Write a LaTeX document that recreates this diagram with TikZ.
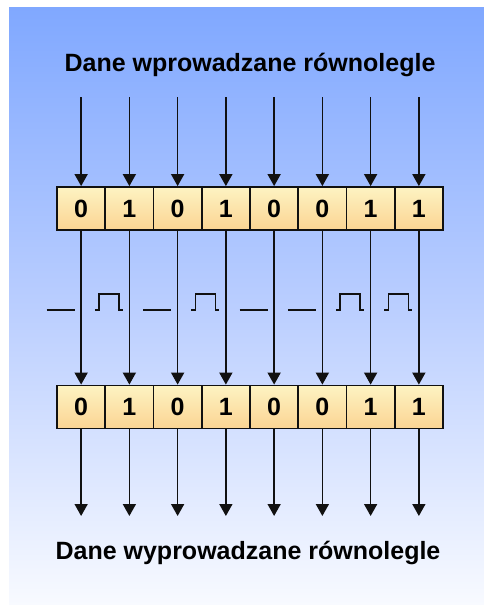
\documentclass[tikz,border=0pt]{standalone}
\usepackage{fontspec}
\setmainfont{Liberation Sans}
\usetikzlibrary{arrows.meta}
\definecolor{bgtop}{HTML}{80A8FF}
\definecolor{bgmid}{HTML}{BACEFF}
\definecolor{bgbot}{HTML}{F8FAFF}
\definecolor{celltop}{HTML}{FDF3C2}
\definecolor{cellbot}{HTML}{FBD493}
\definecolor{ink}{HTML}{111111}
\tikzset{
  cell/.style={draw=ink, line width=1.8pt, minimum width=48.25pt, minimum height=43pt,
    inner sep=0pt, top color=celltop, bottom color=cellbot,
    font=\fontsize{25}{30}\selectfont\bfseries},
  title/.style={font=\fontsize{25}{30}\selectfont\bfseries, inner sep=0pt},
  flow/.style={draw=ink, line width=1.6pt, -{Triangle[width=13pt,length=12pt]}, shorten >=0pt},
  sig/.style={draw=ink, line width=1.4pt},
}
\begin{document}
\begin{tikzpicture}[x=1pt,y=-1pt]
\useasboundingbox (0,0) rectangle (484,605);
\shade[top color=bgtop, bottom color=bgbot, middle color=bgmid] (9,7) rectangle (484,605);
\node[title] (tin) at (250,65) {Dane wprowadzane równolegle};
\node[title] (tout) at (248,553) {Dane wyprowadzane równolegle};
\foreach \b [count=\i] in {0,1,0,1,0,0,1,1} {
  \pgfmathsetmacro{\xx}{57+(\i-0.5)*48.25}
  \node[cell] (a\i) at (\xx,208.5) {\b};
  \node[cell] (b\i) at (\xx,407) {\b};
  \coordinate (s\i) at (\xx,97);
  \coordinate (e\i) at (\xx,516);
  \draw[flow] (s\i) -- (a\i.north);
  \draw[flow] (a\i.south) -- (b\i.north);
  \draw[flow] (b\i.south) -- (e\i);
  \pgfmathsetmacro{\cx}{\xx-20.5}
  \ifnum\b=0
    \draw[sig] (\cx-14,310) -- (\cx+14,310);
  \else
    \draw[sig] (\cx-14,310) -- (\cx-10,310) -- (\cx-10,294) -- (\cx+10,294) -- (\cx+10,310) -- (\cx+14,310);
  \fi
}
\end{tikzpicture}
\end{document}
